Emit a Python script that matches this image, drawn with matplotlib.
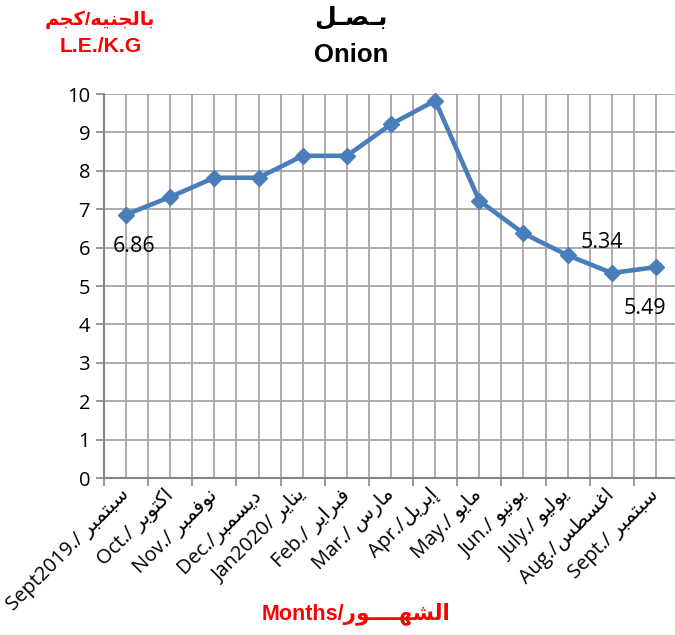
#!/usr/bin/env python3
"""
Onion monthly price chart (L.E./K.G), Sept 2019 - Sept 2020.
"""

import matplotlib
matplotlib.use("Agg")
import matplotlib.pyplot as plt
from matplotlib.ticker import FixedLocator, NullFormatter

# Data
months_en = ['Sept2019./ ', 'Oct./ ', 'Nov./ ', 'Dec./', 'Jan2020/ ', 'Feb./ ',
             'Mar./ ', 'Apr./', 'May./ ', 'Jun./ ', 'July./ ', 'Aug./', 'Sept./ ']
months_ar = ['سبتمبر', 'اكتوبر', 'نوفمبر', 'ديسمبر', 'يناير', 'فبراير',
             'مارس', 'إبريل', 'مايو', 'يونيو', 'يوليو', 'اغسطس', 'سبتمبر']
prices = [6.86, 7.32, 7.82, 7.82, 8.39, 8.39, 9.21, 9.83, 7.22, 6.37, 5.80, 5.34, 5.49]
labelled = {0: '6.86', 11: '5.34', 12: '5.49'}

# Arabic presentation forms: isolated, final, initial, medial
FORMS = {
    'ا': ('\uFE8D', '\uFE8E', None, None),
    'إ': ('\uFE87', '\uFE88', None, None),
    'ب': ('\uFE8F', '\uFE90', '\uFE91', '\uFE92'),
    'ت': ('\uFE95', '\uFE96', '\uFE97', '\uFE98'),
    'ج': ('\uFE9D', '\uFE9E', '\uFE9F', '\uFEA0'),
    'د': ('\uFEA9', '\uFEAA', None, None),
    'ر': ('\uFEAD', '\uFEAE', None, None),
    'س': ('\uFEB1', '\uFEB2', '\uFEB3', '\uFEB4'),
    'ش': ('\uFEB5', '\uFEB6', '\uFEB7', '\uFEB8'),
    'ص': ('\uFEB9', '\uFEBA', '\uFEBB', '\uFEBC'),
    'ط': ('\uFEC1', '\uFEC2', '\uFEC3', '\uFEC4'),
    'غ': ('\uFECD', '\uFECE', '\uFECF', '\uFED0'),
    'ف': ('\uFED1', '\uFED2', '\uFED3', '\uFED4'),
    'ك': ('\uFED9', '\uFEDA', '\uFEDB', '\uFEDC'),
    'ل': ('\uFEDD', '\uFEDE', '\uFEDF', '\uFEE0'),
    'م': ('\uFEE1', '\uFEE2', '\uFEE3', '\uFEE4'),
    'ن': ('\uFEE5', '\uFEE6', '\uFEE7', '\uFEE8'),
    'ه': ('\uFEE9', '\uFEEA', '\uFEEB', '\uFEEC'),
    'و': ('\uFEED', '\uFEEE', None, None),
    'ي': ('\uFEF1', '\uFEF2', '\uFEF3', '\uFEF4'),
    'ـ': ('ـ', 'ـ', 'ـ', 'ـ'),
}


def ar(text):
    """Shape Arabic letters and put them in visual (left-to-right) order."""
    out = []
    for i, c in enumerate(text):
        if c not in FORMS:
            out.append(c)
            continue
        prev = text[i - 1] if i > 0 else None
        nxt = text[i + 1] if i + 1 < len(text) else None
        join_prev = prev in FORMS and FORMS[prev][2] is not None
        join_next = FORMS[c][2] is not None and nxt in FORMS
        iso, fin, ini, med = FORMS[c]
        if join_prev and join_next:
            out.append(med)
        elif join_prev:
            out.append(fin)
        elif join_next:
            out.append(ini)
        else:
            out.append(iso)
    return ''.join(reversed(out))


FAM = ['Open Sans', 'DejaVu Sans']
BOLD_FAM = ['Liberation Sans', 'DejaVu Sans']
BLUE = '#4A7EBB'
GRID = '#A6A6A6'
AXIS = '#868686'
RED = '#FF0000'

W, H = 675, 635
fig = plt.figure(figsize=(W / 100, H / 100), dpi=100)
fig.patch.set_facecolor('white')

# axes box in pixels (right edge runs past the image, as in the reference)
left, right, top, bottom = 104, 678, 94, 478
ax = fig.add_axes([left / W, (H - bottom) / H, (right - left) / W, (bottom - top) / H])

x = list(range(len(prices)))
ax.plot(x, prices, color=BLUE, linewidth=3.3, marker='D', markersize=8.5,
        markerfacecolor=BLUE, markeredgecolor=BLUE, zorder=3, clip_on=False)

ax.set_xlim(-0.5, len(prices) - 0.5)
ax.set_ylim(0, 10)
ax.set_yticks(range(0, 11))

# category labels at centres, tick marks on boundaries
ax.xaxis.set_major_locator(FixedLocator(x))
ax.xaxis.set_minor_locator(FixedLocator([i - 0.5 for i in range(len(prices) + 1)]))
ax.xaxis.set_minor_formatter(NullFormatter())
ax.set_xticklabels([e + ar(a) for e, a in zip(months_en, months_ar)])
for lab in ax.get_xticklabels():
    lab.set_rotation(45)
    lab.set_rotation_mode('anchor')
    lab.set_ha('right')
    lab.set_va('center')
    lab.set_family(FAM)
    lab.set_fontsize(14.5)
for lab in ax.get_yticklabels():
    lab.set_family(FAM)
    lab.set_fontsize(14.5)

ax.tick_params(axis='x', which='major', length=0, pad=10)
ax.tick_params(axis='x', which='minor', length=6, width=1.2, color=AXIS, direction='out')
ax.tick_params(axis='y', length=6, width=1.2, color=AXIS, direction='out', pad=4)

ax.grid(True, which='both', axis='x', color=GRID, linewidth=1.3)
ax.grid(True, which='major', axis='y', color=GRID, linewidth=1.3)
ax.set_axisbelow(True)

for side in ['top', 'right']:
    ax.spines[side].set_visible(False)
for side in ['left', 'bottom']:
    ax.spines[side].set_color(AXIS)
    ax.spines[side].set_linewidth(1.5)

# data labels
offsets = {0: (8, -32), 11: (-10, 30), 12: (-11, -41)}
for i, txt in labelled.items():
    ax.annotate(txt, (x[i], prices[i]), xytext=offsets[i], textcoords='offset pixels',
                ha='center', va='center', fontsize=15.5, family=FAM, color='black')

# titles
fig.text(351 / W, 1 - 17 / H, ar('بـصـل'), ha='center', va='center',
         fontsize=18, fontweight='bold', family=BOLD_FAM)
fig.text(351 / W, 1 - 55 / H, 'Onion', ha='center', va='center',
         fontsize=18.5, fontweight='bold', family=BOLD_FAM)

fig.text(100 / W, 1 - 20 / H, ar('بالجنيه/كجم'), ha='center', va='center',
         fontsize=14, fontweight='bold', family=BOLD_FAM, color=RED)
fig.text(101 / W, 1 - 47 / H, 'L.E./K.G', ha='center', va='center',
         fontsize=15.2, fontweight='bold', family=BOLD_FAM, color=RED)

fig.text(356 / W, 1 - 614 / H, 'Months/' + ar('الشهــــور'), ha='center', va='center',
         fontsize=15.5, fontweight='bold', family=BOLD_FAM, color=RED)

fig.savefig('out.png', dpi=100)
